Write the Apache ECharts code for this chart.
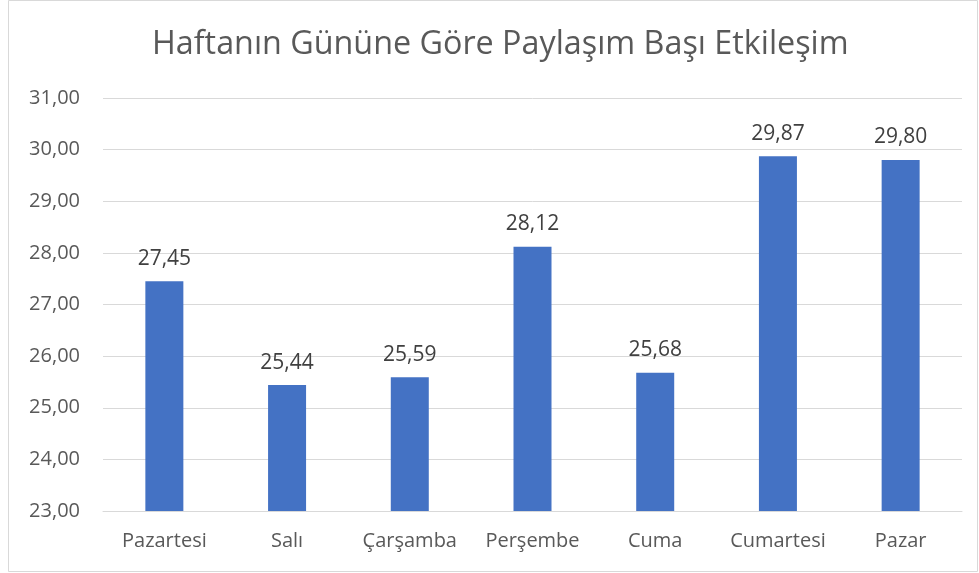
<!DOCTYPE html>
<html><head><meta charset="utf-8">
<script src="https://cdn.jsdelivr.net/npm/echarts@6/dist/echarts.min.js"></script>
<style>html,body{margin:0;padding:0;background:#fff}#c{width:979px;height:573px}</style>
</head><body><div id="c"></div>
<script>
const titleText = 'Haftanın Gününe Göre Paylaşım Başı Etkileşim';
const categories = ['Pazartesi','Salı','Çarşamba','Perşembe','Cuma','Cumartesi','Pazar'];
const values = [27.45, 25.44, 25.59, 28.12, 25.68, 29.87, 29.80];
const yMin = 23, yMax = 31, yStep = 1;
const fmt = v => v.toFixed(2).replace('.', ',');
const FONT = 'Open Sans';
const chart = echarts.init(document.getElementById('c'), null, {renderer:'canvas'});
chart.setOption({
  animation:false,
  backgroundColor:'#fff',
  title:{text:titleText,left:152,top:29,padding:0,textStyle:{fontFamily:FONT,fontSize:32.3,fontWeight:'normal',color:'#595959'}},
  graphic:[{type:'rect',shape:{x:8.5,y:0.5,width:969,height:571},style:{fill:'none',stroke:'#d9d9d9',lineWidth:1},silent:true}],
  grid:{left:103,right:17,top:98,bottom:62},
  xAxis:{type:'category',data:categories,axisTick:{show:false},
    axisLine:{lineStyle:{color:'#d9d9d9',width:1}},
    axisLabel:{interval:0,hideOverlap:false,fontFamily:FONT,fontSize:20,color:'#595959',margin:20}},
  yAxis:{type:'value',min:yMin,max:yMax,interval:yStep,
    axisLine:{show:false},axisTick:{show:false},
    splitLine:{lineStyle:{color:'#d9d9d9',width:1}},
    axisLabel:{fontFamily:FONT,fontSize:20,color:'#595959',margin:23,formatter:fmt}},
  series:[{type:'bar',data:values,barWidth:38,itemStyle:{color:'#4472c4'},
    label:{show:true,position:'top',distance:12,fontFamily:FONT,fontSize:21,color:'#404040',formatter:p=>fmt(p.value)}}]
});
</script></body></html>
